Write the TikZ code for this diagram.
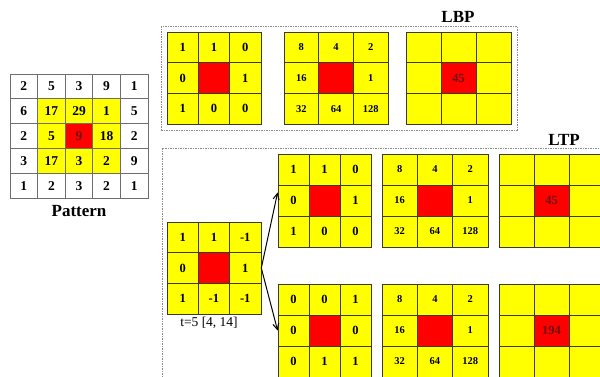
\documentclass[tikz,border=0pt]{standalone}
\usepackage{fontspec}
\setmainfont{Liberation Serif}
\usetikzlibrary{arrows.meta, fit}
\definecolor{cyellow}{HTML}{FFFF00}
\definecolor{cred}{HTML}{FF0000}
\definecolor{cline}{HTML}{3A3A20}
\definecolor{cgrey}{HTML}{6E6E6E}
\definecolor{cframe}{HTML}{8A8A8A}
\definecolor{cdark}{HTML}{6E1212}
\tikzset{
  every picture/.style={x=1pt, y=-1pt, line width=0.8pt},
  cell/.style={draw=cline, fill=#1, inner sep=0pt, font=\bfseries\fontsize{12.5}{14}\selectfont},
  cell/.default=cyellow,
  pcell/.style={draw=cgrey, fill=#1, inner sep=0pt, font=\bfseries\fontsize{13.5}{15}\selectfont},
  wgt/.style={font=\bfseries\fontsize{10.5}{12}\selectfont},
  frame/.style={draw=cframe, line width=0.7pt, dash pattern=on 2pt off 1.2pt on 0.6pt off 1.2pt},
  arrow/.style={-{Straight Barb[length=6pt, width=6pt]}, draw=black, line width=1pt},
  title/.style={font=\bfseries\fontsize{17}{19}\selectfont},
  note/.style={font=\fontsize{13.5}{15}\selectfont},
}
% name, left, top, cell width, cell height, text style, entries
\newcommand\threegrid[7]{%
  \foreach \v [count=\i from 0] in {#7} {
    \pgfmathtruncatemacro\r{div(\i,3)}
    \pgfmathtruncatemacro\c{mod(\i,3)}
    \ifnum\i=4 \def\cf{cred}\def\ct{cdark}\else\def\cf{cyellow}\def\ct{black}\fi
    \node[cell=\cf, #6, text=\ct, minimum width=#4pt, minimum height=#5pt]
      (#1-\i) at (#2+\c*#4+#4/2, #3+\r*#5+#5/2) {\v};
  }}

\begin{document}
\begin{tikzpicture}
  \useasboundingbox (0,0) rectangle (600,377);
  \clip (0,0) rectangle (600,377);
  % input pattern
  \foreach \v [count=\i from 0] in {2,5,3,9,1, 6,17,29,1,5, 2,5,9,18,2, 3,17,3,2,9, 1,2,3,2,1} {
    \pgfmathtruncatemacro\r{div(\i,5)}
    \pgfmathtruncatemacro\c{mod(\i,5)}
    \pgfmathtruncatemacro\inner{(\r>0)*(\r<4)*(\c>0)*(\c<4)}
    \ifnum\i=12 \def\cf{cred}\def\ct{cdark}\else
      \ifnum\inner=1 \def\cf{cyellow}\else\def\cf{white}\fi\def\ct{black}\fi
    \node[pcell=\cf, text=\ct, minimum width=27.6pt, minimum height=24.8pt]
      (pat-\i) at (10+\c*27.6+13.8, 74+\r*24.8+12.4) {\v};
  }
  \node[title] (patlabel) at (79,211) {Pattern};
  % LBP row
  \threegrid{lbpa}{167}{32}{31.3}{30.7}{}{1,1,0,0,,1,1,0,0}
  \threegrid{lbpb}{284}{32}{34.7}{30.7}{wgt}{8,4,2,16,,1,32,64,128}
  \threegrid{lbpc}{406}{32}{35}{30.7}{}{,,,,45,,,,}
  \node[frame, fit=(lbpa-0)(lbpc-8), inner sep=5.5pt] (lbp) {};
  \node[title] (lbplabel) at (458,17) {LBP};
  % LTP: ternary code split into upper and lower
  \draw[frame] (162,148) rectangle (660,430);
  \node[title] (ltplabel) at (564,140) {LTP};
  \threegrid{ltp}{167}{222}{31.3}{30.7}{}{1,1,-1,0,,1,1,-1,-1}
  \node[note] (tlabel) at (209,323) {t=5 [4, 14]};
  \threegrid{upa}{278}{154}{31}{31}{}{1,1,0,0,,1,1,0,0}
  \threegrid{upb}{382}{154}{35.3}{31}{wgt}{8,4,2,16,,1,32,64,128}
  \threegrid{upc}{499}{154}{35}{31}{}{,,,,45,,,,}
  \threegrid{loa}{278}{284}{31}{31}{}{0,0,1,0,,0,0,1,1}
  \threegrid{lob}{382}{284}{35.3}{31}{wgt}{8,4,2,16,,1,32,64,128}
  \threegrid{loc}{499}{284}{35}{31}{}{,,,,194,,,,}
  \draw[arrow] (ltp-5.east) -- ([yshift=8pt]upa-3.west);
  \draw[arrow] (ltp-5.east) -- (loa-3.west);
\end{tikzpicture}
\end{document}
